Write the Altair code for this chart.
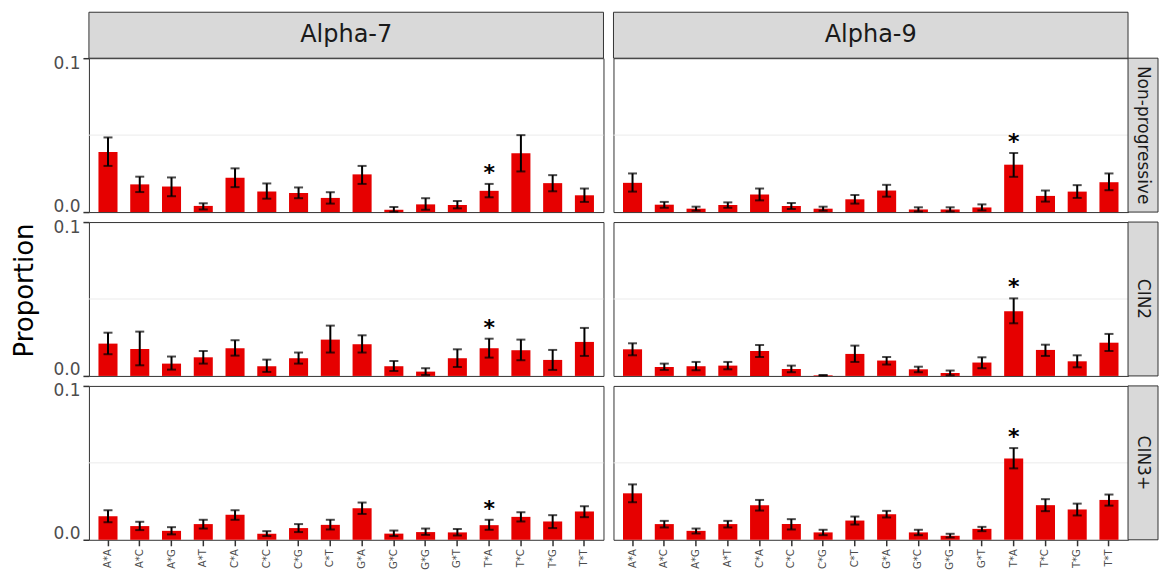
import altair as alt
import pandas as pd

# ---------------- data ----------------
cats = ["A*A", "A*C", "A*G", "A*T", "C*A", "C*C", "C*G", "C*T",
        "G*A", "G*C", "G*G", "G*T", "T*A", "T*C", "T*G", "T*T"]
col_labels = ["Alpha-7", "Alpha-9"]
row_labels = ["Non-progressive", "CIN2", "CIN3+"]
star_cats = ["T*A"]  # significant contexts marked with *

# Alpha-7, Non-progressive
a7_np_val = [0.039, 0.018, 0.0166, 0.004, 0.0223, 0.0133, 0.0124, 0.0092, 0.0245, 0.0015, 0.005, 0.0046, 0.0138, 0.0382, 0.0188, 0.0109]
a7_np_lo = [0.030, 0.013, 0.0103, 0.0017, 0.0162, 0.0087, 0.009, 0.0055, 0.0183, 0.0002, 0.0015, 0.0024, 0.0096, 0.0264, 0.0135, 0.0066]
a7_np_hi = [0.0485, 0.023, 0.0225, 0.0057, 0.0284, 0.0186, 0.016, 0.0129, 0.030, 0.0033, 0.009, 0.0072, 0.0183, 0.050, 0.024, 0.0153]
# Alpha-9, Non-progressive
a9_np_val = [0.019, 0.0048, 0.0022, 0.0046, 0.0114, 0.004, 0.0022, 0.0083, 0.014, 0.0017, 0.0017, 0.003, 0.0308, 0.0105, 0.0133, 0.0194]
a9_np_lo = [0.0133, 0.0028, 0.0009, 0.0028, 0.0076, 0.002, 0.0009, 0.0055, 0.010, 0.0004, 0.0004, 0.0011, 0.0229, 0.0068, 0.0092, 0.0142]
a9_np_hi = [0.0251, 0.0066, 0.0035, 0.0063, 0.0153, 0.0059, 0.0035, 0.0111, 0.0177, 0.0031, 0.0031, 0.005, 0.0384, 0.014, 0.0175, 0.0251]
# Alpha-7, CIN2
a7_c2_val = [0.021, 0.0175, 0.008, 0.0121, 0.018, 0.0063, 0.0115, 0.0236, 0.0206, 0.0063, 0.0028, 0.0115, 0.018, 0.0167, 0.0104, 0.0221]
a7_c2_lo = [0.0141, 0.0069, 0.0041, 0.008, 0.0132, 0.0026, 0.008, 0.0152, 0.0152, 0.0032, 0.0006, 0.0058, 0.0119, 0.0102, 0.0039, 0.013]
a7_c2_hi = [0.0281, 0.0288, 0.0126, 0.0162, 0.0232, 0.0106, 0.0152, 0.0327, 0.0264, 0.0097, 0.005, 0.0173, 0.0242, 0.0236, 0.0169, 0.0312]
# Alpha-9, CIN2
a9_c2_val = [0.0173, 0.0058, 0.0063, 0.0067, 0.0162, 0.0045, 0.0004, 0.0143, 0.010, 0.0043, 0.0019, 0.0087, 0.042, 0.0169, 0.0095, 0.0216]
a9_c2_lo = [0.0134, 0.0039, 0.0037, 0.0043, 0.0123, 0.0024, 0.0002, 0.0091, 0.0074, 0.0024, 0.0004, 0.005, 0.0342, 0.013, 0.0056, 0.0162]
a9_c2_hi = [0.0212, 0.008, 0.0091, 0.0091, 0.0201, 0.0067, 0.0006, 0.0197, 0.0123, 0.006, 0.0035, 0.0121, 0.0504, 0.0203, 0.0134, 0.0273]
# Alpha-7, CIN3+
a7_c3_val = [0.0153, 0.0089, 0.0058, 0.0102, 0.0162, 0.004, 0.0076, 0.0097, 0.0205, 0.004, 0.005, 0.0048, 0.0095, 0.0149, 0.0119, 0.0184]
a7_c3_lo = [0.0114, 0.0063, 0.0035, 0.0073, 0.013, 0.0024, 0.005, 0.0067, 0.0168, 0.0024, 0.0032, 0.0028, 0.0065, 0.0119, 0.0076, 0.0147]
a7_c3_hi = [0.0192, 0.0117, 0.0082, 0.013, 0.0192, 0.0056, 0.0102, 0.013, 0.0242, 0.006, 0.0073, 0.007, 0.013, 0.0179, 0.016, 0.0218]
# Alpha-9, CIN3+
a9_c3_val = [0.0302, 0.0102, 0.0058, 0.0102, 0.0225, 0.0102, 0.0048, 0.0125, 0.0166, 0.0048, 0.0026, 0.0071, 0.0529, 0.0225, 0.0197, 0.0259]
a9_c3_lo = [0.0244, 0.008, 0.0041, 0.008, 0.019, 0.0067, 0.003, 0.0099, 0.0145, 0.003, 0.0015, 0.0056, 0.0464, 0.0186, 0.0158, 0.0222]
a9_c3_hi = [0.036, 0.0123, 0.0073, 0.0123, 0.0259, 0.0134, 0.0065, 0.0151, 0.0188, 0.0065, 0.0039, 0.0084, 0.0596, 0.0264, 0.0235, 0.0294]

grid_values = [0.05]

series = {
    ("Alpha-7", "Non-progressive"): (a7_np_val, a7_np_lo, a7_np_hi),
    ("Alpha-9", "Non-progressive"): (a9_np_val, a9_np_lo, a9_np_hi),
    ("Alpha-7", "CIN2"): (a7_c2_val, a7_c2_lo, a7_c2_hi),
    ("Alpha-9", "CIN2"): (a9_c2_val, a9_c2_lo, a9_c2_hi),
    ("Alpha-7", "CIN3+"): (a7_c3_val, a7_c3_lo, a7_c3_hi),
    ("Alpha-9", "CIN3+"): (a9_c3_val, a9_c3_lo, a9_c3_hi),
}

# ---------------- styling ----------------
W, H = 515, 154
STRIP_H, STRIP_W = 46, 30
RED = "#e60000"
DARK = "#333333"
STRIP_FILL = "#d9d9d9"
FONT = "DejaVu Sans"


def panel(col, row):
    val, lo, hi = series[(col, row)]
    df = pd.DataFrame({
        "cat": cats, "val": val, "lo": lo, "hi": hi,
        "sig": ["*" if c in star_cats else "" for c in cats],
    })
    bottom = row == row_labels[-1]
    left = col == col_labels[0]
    top = row == row_labels[0]
    right = col == col_labels[-1]

    x_scale = alt.Scale(domain=cats, paddingInner=0.4, paddingOuter=0.3)
    y_scale = alt.Scale(domain=[0, 0.1], nice=False, zero=True)

    if bottom:
        x_axis = alt.Axis(title=None, labelAngle=270, labelFontSize=10,
                          labelColor="#4d4d4d", tickColor=DARK, tickSize=6,
                          tickWidth=1.5, domain=False, labelPadding=3)
    else:
        x_axis = None
    if left:
        y_axis = alt.Axis(title=None, values=[0, 0.1], format=".1f", grid=False,
                          labelFontSize=17, labelColor="#4d4d4d", tickColor=DARK,
                          tickSize=6, tickWidth=1.5, domain=False, labelPadding=3,
                          labelFlush=True, labelFlushOffset=3)
    else:
        y_axis = None

    X = alt.X("cat:N", sort=cats, scale=x_scale, axis=x_axis)

    grid = alt.Chart(pd.DataFrame({"g": grid_values})).mark_rule(
        color="#ebebeb", strokeWidth=1
    ).encode(y=alt.Y("g:Q", scale=y_scale, axis=y_axis))

    bars = alt.Chart(df).mark_bar(color=RED).encode(
        x=X, y=alt.Y("val:Q", scale=y_scale, axis=y_axis))
    err = alt.Chart(df).mark_rule(color="black", strokeWidth=2).encode(
        x=X, y=alt.Y("lo:Q", scale=y_scale), y2="hi:Q")
    cap_lo = alt.Chart(df).mark_tick(color="black", thickness=2, size=9).encode(
        x=X, y=alt.Y("lo:Q", scale=y_scale))
    cap_hi = alt.Chart(df).mark_tick(color="black", thickness=2, size=9).encode(
        x=X, y=alt.Y("hi:Q", scale=y_scale))
    star = alt.Chart(df).mark_text(
        fontSize=22, fontWeight="bold", color="black", baseline="alphabetic", dy=-4
    ).encode(x=X, y=alt.Y("hi:Q", scale=y_scale), text="sig:N")

    layers = [grid, bars, err, cap_lo, cap_hi, star]

    if top:
        sdf = pd.DataFrame({"label": [col]})
        layers.append(alt.Chart(sdf).mark_rect(
            fill=STRIP_FILL, stroke=DARK, strokeWidth=1).encode(
            x=alt.value(0), x2=alt.value(W), y=alt.value(-STRIP_H), y2=alt.value(0)))
        layers.append(alt.Chart(sdf).mark_text(
            fontSize=24, color="#1a1a1a", baseline="middle", align="center").encode(
            x=alt.value(W / 2), y=alt.value(-STRIP_H / 2), text="label:N"))
    if right:
        rdf = pd.DataFrame({"label": [row]})
        layers.append(alt.Chart(rdf).mark_rect(
            fill=STRIP_FILL, stroke=DARK, strokeWidth=1).encode(
            x=alt.value(W), x2=alt.value(W + STRIP_W), y=alt.value(0), y2=alt.value(H)))
        layers.append(alt.Chart(rdf).mark_text(
            fontSize=17, color="#1a1a1a", baseline="middle", align="center", angle=90).encode(
            x=alt.value(W + STRIP_W / 2), y=alt.value(H / 2), text="label:N"))

    return alt.layer(*layers).properties(width=W, height=H)


panels = [panel(c, r) for r in row_labels for c in col_labels]

chart = alt.concat(
    *panels, columns=2, spacing=10, bounds="flush",
    title=alt.TitleParams("Proportion", orient="left", anchor="middle",
                          fontSize=26, fontWeight="normal", color="black",
                          font=FONT, offset=14),
).properties(
    padding={"left": 4, "top": 3, "right": 0, "bottom": 0}
).configure(
    font=FONT
).configure_view(
    stroke=DARK, strokeWidth=1
).configure_axis(
    labelFont=FONT
)

chart.save("out.html", embed_options={"renderer": "svg", "actions": False})
